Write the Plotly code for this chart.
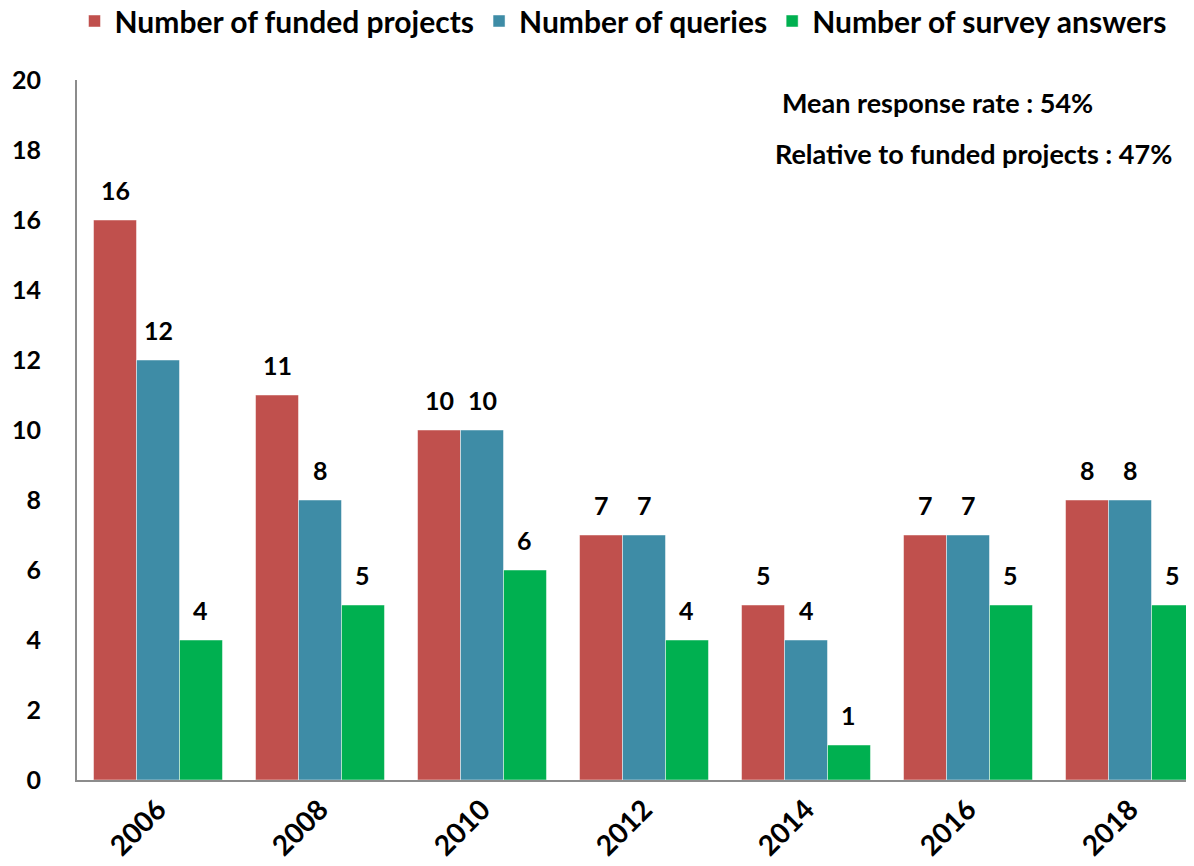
import plotly.graph_objects as go

years = ["2006", "2008", "2010", "2012", "2014", "2016", "2018"]
funded = [16, 11, 10, 7, 5, 7, 8]
queries = [12, 8, 10, 7, 4, 7, 8]
answers = [4, 5, 6, 4, 1, 5, 5]
series_names = ["Number of funded projects", "Number of queries", "Number of survey answers"]
colors = ["#C0504D", "#3E8CA6", "#00B050"]
notes = ["Mean response rate : 54%", "Relative to funded projects : 47%"]

FONT = "Lato"
OFF = 8  # default page body margin
WID, HEI = 1194 - OFF, 866 - OFF
L, R, T, B = 77 - OFF, 0, 80 - OFF, 86
PW, PH = WID - L - R, HEI - T - B
XR = [-0.5, 6.395]
BARGAP = 0.204

fig = go.Figure()
all_vals = [funded, queries, answers]
for name, vals, col in zip(series_names, all_vals, colors):
    fig.add_trace(go.Bar(
        x=years, y=vals, name=name,
        marker=dict(color=col, line=dict(color="rgba(255,255,255,0.6)", width=0.8)),
        cliponaxis=False,
    ))

# value labels above bars
cat_px = PW / (XR[1] - XR[0])
bar_w = cat_px * (1 - BARGAP) / len(all_vals)
for i, vals in enumerate(all_vals):
    dx = (i - (len(all_vals) - 1) / 2) * bar_w
    for j, v in enumerate(vals):
        fig.add_annotation(x=j, y=v, xref="x", yref="y", text=str(v), showarrow=False,
                           xshift=dx, yshift=30, xanchor="center", yanchor="middle",
                           font=dict(family=FONT, size=25, color="black", weight="bold"))

fig.update_layout(
    width=WID, height=HEI,
    margin=dict(l=L, r=R, t=T, b=B, autoexpand=False),
    paper_bgcolor="white", plot_bgcolor="white",
    barmode="group", bargap=BARGAP, bargroupgap=0,
    font=dict(family=FONT, color="black"),
    legend=dict(orientation="h", x=(623 - 77) / PW, xanchor="center",
                y=(780 - 21) / PH, yanchor="middle",
                font=dict(family=FONT, size=30, color="black", weight="bold"),
                itemwidth=30, tracegroupgap=0),
    xaxis=dict(type="category", range=XR, showline=True, linecolor="#8c8c8c",
               linewidth=2, ticks="", tickangle=-45,
               tickfont=dict(family=FONT, size=28, color="black", weight="bold")),
    yaxis=dict(range=[0, 20], dtick=2, showgrid=False, zeroline=False, showline=True,
               linecolor="#8c8c8c", linewidth=2, ticks="", ticklabelstandoff=29,
               tickfont=dict(family=FONT, size=25, color="black", weight="bold")),
)

for txt, (px, py) in zip(notes, [(938, 103), (973, 153)]):
    fig.add_annotation(x=(px - 77) / PW, y=(780 - py) / PH, xref="paper", yref="paper",
                       text=txt, showarrow=False, xanchor="center", yanchor="middle",
                       font=dict(family=FONT, size=27, color="black", weight="bold"))

fig.write_html("out.html")
